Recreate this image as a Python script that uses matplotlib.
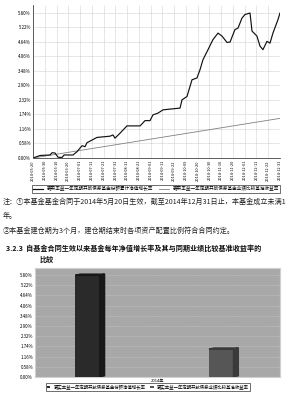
"""
Reproduit la page de rapport : courbe du rendement cumulé du fonds vs
indice de référence, notes, puis histogramme annuel 2014.
"""

import matplotlib

matplotlib.use("Agg")
import matplotlib.pyplot as plt
from matplotlib.patches import Polygon

plt.rcParams["font.family"] = ["Noto Sans CJK SC", "DejaVu Sans"]

# --- données ------------------------------------------------------------
ETIQUETTES_DATES = [
    "2014-05-20", "2014-05-30", "2014-06-10", "2014-06-20", "2014-07-01",
    "2014-07-11", "2014-07-21", "2014-07-31", "2014-08-11", "2014-08-21",
    "2014-09-01", "2014-09-11", "2014-09-22", "2014-10-09", "2014-10-20",
    "2014-10-30", "2014-11-10", "2014-11-20", "2014-12-01", "2014-12-11",
    "2014-12-22", "2014-12-31",
]

# positions exprimées en rang d'étiquette (0 = première date)
fonds_x = [
    0.0, 0.60, 1.45, 1.62, 1.87, 2.13, 2.47, 2.64, 3.40, 3.74, 4.17, 4.42,
    4.59, 5.44, 6.55, 6.80, 6.97, 7.40, 7.99, 9.10, 9.27, 9.52, 9.95, 10.20,
    10.63, 11.05, 12.50, 12.67, 13.09, 13.52, 13.94, 14.20, 14.45, 14.88,
    15.30, 15.73, 16.07, 16.49, 16.75, 17.17, 17.43, 17.77, 18.02, 18.45,
    18.62, 19.04, 19.30, 19.55, 19.89, 20.15, 20.40, 20.83, 21.0,
]
fonds_rendement = [
    0.00, 0.10, 0.12, 0.21, 0.20, 0.03, 0.02, 0.12, 0.12, 0.25, 0.49, 0.45,
    0.61, 0.82, 0.87, 0.92, 0.79, 0.99, 1.28, 1.28, 1.36, 1.49, 1.49, 1.72,
    1.79, 1.92, 1.99, 2.32, 2.45, 3.12, 3.19, 3.52, 3.92, 4.32, 4.72, 4.98,
    4.86, 4.61, 4.62, 5.12, 5.18, 5.58, 5.72, 5.78, 5.06, 4.86, 4.46, 4.32,
    4.65, 4.58, 4.98, 5.52, 5.78,
]
reference_x = [0.0, 21.0]
reference_rendement = [0.00, 1.58]

GRADUATIONS_Y = [0.00, 0.58, 1.16, 1.74, 2.32, 2.90, 3.48, 4.06, 4.64, 5.22, 5.80]

annees = ["2014年"]
barres_valeurs = [5.78, 1.58]

LEGENDE_FONDS = "嘉实丰益一年定期开放债券基金份额累计净值增长率"
LEGENDE_REFERENCE = "嘉实丰益一年定期开放债券基金业绩比较基准收益率"
LEGENDE_BARRE_FONDS = "嘉实丰益一年定期开放债券基金份额净值增长率"
LEGENDE_BARRE_REFERENCE = "嘉实丰益一年定期开放债券业绩比较基准收益率"

NOTES = [
    "注：①本基金基金合同于2014年5月20日生效，截至2014年12月31日止，本基金成立未满1",
    "年。",
    "②本基金建仓期为3个月，建仓期结束时各项资产配置比例符合合同约定。",
]
TITRE = [
    "3.2.3  自基金合同生效以来基金每年净值增长率及其与同期业绩比较基准收益率的",
    "比较",
]

H = 393.0
W = 300.0


def rect(x0, y0, x1, y1):
    """Pixels (origine en haut) -> fraction de figure."""
    return [x0 / W, 1 - y1 / H, (x1 - x0) / W, (y1 - y0) / H]


fig = plt.figure(figsize=(3.0, 3.93), dpi=100)

# --- courbe ---------------------------------------------------------------
axe = fig.add_axes(rect(33, 5, 280, 158))
axe.plot(reference_x, reference_rendement, color="#808080", lw=0.6,
         label=LEGENDE_REFERENCE)
axe.plot(fonds_x, fonds_rendement, color="#111111", lw=0.85,
         label=LEGENDE_FONDS)
axe.set_xlim(0, len(ETIQUETTES_DATES) - 1)
axe.set_ylim(0, 6.1)
axe.set_yticks(GRADUATIONS_Y)
axe.set_yticklabels([f"{v:.2f}%" for v in GRADUATIONS_Y], fontsize=3.2)
axe.set_xticks(range(len(ETIQUETTES_DATES)))
axe.set_xticklabels(ETIQUETTES_DATES, rotation=90, fontsize=2.8)
axe.tick_params(length=0, pad=1.5)
axe.grid(True, color="#aaaaaa", ls=(0, (1, 1)), lw=0.4)
for cote in ("top", "right"):
    axe.spines[cote].set_visible(False)
for cote in ("left", "bottom"):
    axe.spines[cote].set_linewidth(0.6)
    axe.spines[cote].set_color("#444444")

poignees, noms = axe.get_legend_handles_labels()
fig.legend(poignees[::-1], noms[::-1], loc="center", ncol=2, fontsize=3.3,
           bbox_to_anchor=(156 / W, 1 - 189 / H), frameon=True, fancybox=False,
           edgecolor="black", borderpad=0.25, handlelength=2.2,
           columnspacing=1.2).get_frame().set_linewidth(0.5)

# --- texte ----------------------------------------------------------------
for texte, y in zip(NOTES, [202, 216, 231]):
    fig.text(3 / W, 1 - y / H, texte, fontsize=5.1, va="center", color="#222222")
for texte, (x, y) in zip(TITRE, [(6, 248), (40, 259)]):
    fig.text(x / W, 1 - y / H, texte, fontsize=5.1, va="center",
             fontweight="bold", color="#111111")

# --- histogramme ----------------------------------------------------------
axb = fig.add_axes(rect(35, 268, 280, 377))
axb.set_facecolor("#a8a8a8")
positions = [0.214, 0.76]
largeur = 0.10
couleurs = ["#2a2a2a", "#565656"]
cotes = ["#181818", "#3a3a3a"]
barres = axb.bar(positions, barres_valeurs, largeur, color=couleurs, zorder=3)
dx, dy = 0.02, 0.07
for barre, cote in zip(barres, cotes):
    x1 = barre.get_x() + barre.get_width()
    h = barre.get_height()
    axb.add_patch(Polygon([(x1, 0), (x1 + dx, dy), (x1 + dx, h + dy), (x1, h)],
                          closed=True, color=cote, zorder=3))
    axb.add_patch(Polygon([(barre.get_x(), h), (barre.get_x() + dx, h + dy),
                           (x1 + dx, h + dy), (x1, h)],
                          closed=True, color=cote, zorder=3))
axb.set_xlim(0, 1)
axb.set_ylim(0, 6.2)
axb.set_yticks(GRADUATIONS_Y)
axb.set_yticklabels([f"{v:.2f}%" for v in GRADUATIONS_Y], fontsize=3.2)
axb.set_xticks([0.5])
axb.set_xticklabels(annees, fontsize=3.0)
axb.tick_params(length=0, pad=1.5)
axb.grid(True, axis="y", color="#c6c6c6", ls=(0, (2, 1)), lw=0.4, zorder=1)
for cote in axb.spines.values():
    cote.set_color("#d0d0d0")
    cote.set_linewidth(0.8)

fig.legend(handles=list(barres), labels=[LEGENDE_BARRE_FONDS, LEGENDE_BARRE_REFERENCE],
           loc="center", ncol=2, fontsize=3.2,
           bbox_to_anchor=(148 / W, 1 - 387 / H), frameon=True, fancybox=False,
           edgecolor="black", borderpad=0.25, handlelength=0.8, handleheight=0.6,
           columnspacing=1.0).get_frame().set_linewidth(0.5)

fig.savefig("out.png", dpi=100, facecolor="white")
